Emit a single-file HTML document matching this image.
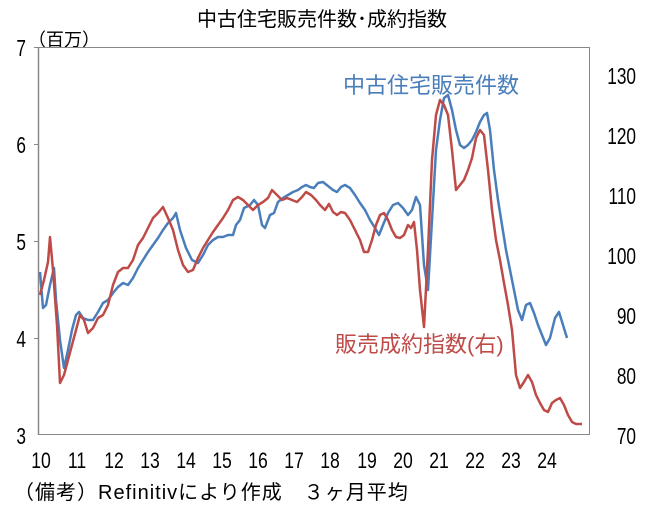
<!DOCTYPE html>
<html><head><meta charset="utf-8"><style>
body{margin:0;background:#fff;width:647px;height:521px;overflow:hidden}
text{font-family:"Liberation Sans","Noto Sans CJK JP",sans-serif}
</style></head><body>
<svg width="647" height="521" viewBox="0 0 647 521">
<text x="322" y="26" font-size="20" text-anchor="middle" fill="#000">中古住宅販売件数･成約指数</text>
<text x="28" y="46" font-size="18" fill="#000">（百万）</text>
<rect x="38.5" y="47.5" width="551" height="387" fill="none" stroke="#888" stroke-width="1"/>
<line x1="38.5" y1="47" x2="38.5" y2="435" stroke="#888" stroke-width="1.5"/>
<g font-size="23" fill="#000" text-anchor="end">
<g transform="translate(26,0) scale(0.75,1)">
<text x="0" y="56">7</text><text x="0" y="153">6</text><text x="0" y="250">5</text><text x="0" y="347">4</text><text x="0" y="444">3</text>
</g></g>
<g font-size="23" fill="#000" text-anchor="end">
<g transform="translate(636,0) scale(0.75,1)">
<text x="0" y="84">130</text><text x="0" y="144">120</text><text x="0" y="204">110</text><text x="0" y="264">100</text><text x="0" y="324">90</text><text x="0" y="384">80</text><text x="0" y="444">70</text>
</g></g>
<g stroke="#888"><line x1="34" y1="47.5" x2="38" y2="47.5"/><line x1="34" y1="144.5" x2="38" y2="144.5"/><line x1="34" y1="241.5" x2="38" y2="241.5"/><line x1="34" y1="338.5" x2="38" y2="338.5"/></g>
<g font-size="22" fill="#000" text-anchor="middle">
<text transform="translate(41,468) scale(0.8,1)">10</text><text transform="translate(77,468) scale(0.8,1)">11</text><text transform="translate(114,468) scale(0.8,1)">12</text><text transform="translate(150,468) scale(0.8,1)">13</text><text transform="translate(186,468) scale(0.8,1)">14</text><text transform="translate(222,468) scale(0.8,1)">15</text><text transform="translate(258,468) scale(0.8,1)">16</text><text transform="translate(294,468) scale(0.8,1)">17</text><text transform="translate(330,468) scale(0.8,1)">18</text><text transform="translate(367,468) scale(0.8,1)">19</text><text transform="translate(403,468) scale(0.8,1)">20</text><text transform="translate(439,468) scale(0.8,1)">21</text><text transform="translate(475,468) scale(0.8,1)">22</text><text transform="translate(511,468) scale(0.8,1)">23</text><text transform="translate(547,468) scale(0.8,1)">24</text>
</g>
<text x="14" y="499" font-size="20" fill="#000" letter-spacing="1">（備考）Refinitivにより作成　３ヶ月平均</text>
<polyline fill="none" stroke="#4a7ebb" stroke-width="2.5" stroke-linejoin="round" points="40,272 43,308 46,305 50,285 54,268 56,300 60,340 64,368 68,350 72,330 76,315 79,312 83,318 88,320 93,320 98,312 103,303 108,300 113,293 118,287 123,283 128,285 133,278 138,268 143,260 148,252 153,245 158,238 163,230 168,223 173,218 176,213 180,230 186,248 192,260 198,263 203,255 208,245 213,240 218,237 223,237 228,235 233,235 236,225 240,220 244,208 250,205 254,200 258,205 262,225 265,228 270,215 274,213 278,202 283,198 288,195 293,192 298,190 302,187 306,185 310,187 314,188 318,183 323,182 328,186 333,190 337,192 341,187 345,185 350,188 355,195 360,203 365,210 370,220 375,228 379,235 383,225 388,213 393,205 398,203 403,208 408,215 412,210 416,197 420,205 424,265 428,290 432,220 436,150 440,120 444,98 448,95 452,110 456,130 460,145 464,148 468,145 472,140 476,132 480,122 484,115 487,113 490,130 494,170 498,200 502,225 506,250 510,270 514,290 518,310 522,320 526,305 530,303 534,313 538,325 542,335 546,345 550,338 555,318 559,312 563,325 567,338"/>
<polyline fill="none" stroke="#be4b48" stroke-width="2.5" stroke-linejoin="round" points="40,295 44,280 48,262 50,237 53,270 57,325 60,383 64,375 68,360 72,345 76,330 80,315 84,320 88,333 93,328 98,318 103,315 108,305 113,285 118,272 123,268 128,268 133,260 138,245 143,238 148,228 153,218 158,213 163,207 168,218 173,230 178,250 183,265 188,272 193,270 198,258 203,248 208,240 213,232 218,225 223,218 228,210 233,200 238,197 243,200 248,205 253,210 258,205 263,202 268,198 272,190 277,195 282,200 287,198 292,200 297,202 302,197 306,192 311,195 316,200 320,205 325,210 329,204 333,212 337,215 341,212 345,213 350,220 355,230 360,240 364,252 368,252 372,240 376,225 380,215 384,213 388,220 392,230 396,237 400,238 404,235 408,225 411,228 414,222 417,250 420,290 424,327 428,250 432,160 436,115 440,100 444,105 448,115 452,150 456,190 460,185 464,180 468,170 472,158 476,138 480,130 484,135 488,170 492,210 496,240 500,260 504,283 508,305 512,330 516,375 520,388 524,382 528,375 532,382 536,395 540,403 544,410 548,412 552,403 556,400 560,398 564,405 568,415 572,422 576,424 582,424"/>
<text x="343" y="93" font-size="22" fill="#4a7ebb">中古住宅販売件数</text>
<text x="335" y="352" font-size="22" fill="#be4b48">販売成約指数(右)</text>
</svg>
</body></html>
